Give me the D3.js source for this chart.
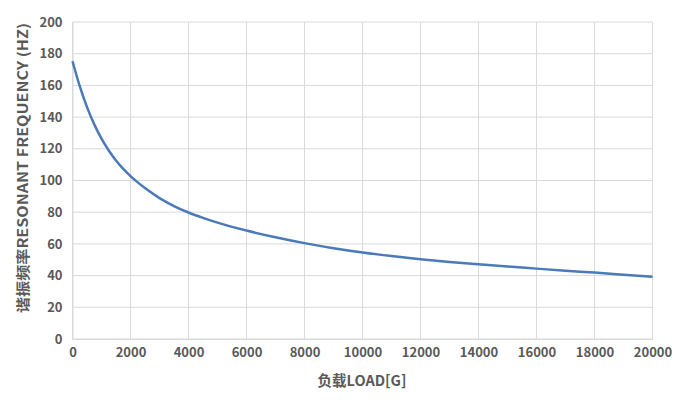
<!DOCTYPE html>
<html><head><meta charset="utf-8">
<script src="https://cdn.jsdelivr.net/npm/d3@7/dist/d3.min.js"></script>
<style>body{margin:0;background:#fff}</style>
</head><body>
<svg id="c" width="692" height="400"></svg>
<script>
const loads = [0,250,500,750,1000,1250,1500,1750,2000,2250,2500,3000,3500,4000,4500,5000,6000,7000,8000,9000,10000,11000,12000,13000,14000,15000,16000,17000,18000,19000,20000];
const freqs = [175.3,159.5,146.3,135.4,126.4,118.9,112.6,107.3,102.8,98.8,95.2,88.9,83.9,79.8,76.4,73.4,68.4,64.2,60.5,57.3,54.6,52.3,50.3,48.6,47.1,45.7,44.4,43.1,41.9,40.6,39.3];
const xTicks = [0,2000,4000,6000,8000,10000,12000,14000,16000,18000,20000];
const yTicks = [0,20,40,60,80,100,120,140,160,180,200];
const xTitle = "负载LOAD[G]";
const yTitle = "谐振频率RESONANT FREQUENCY (HZ)";

const svg = d3.select("#c");
const L=72.5, R=652.5, T=22, B=339;
const x = d3.scaleLinear().domain([0,20000]).range([L,R]);
const y = d3.scaleLinear().domain([0,200]).range([B,T]);
const font = "'Noto Sans CJK SC','Noto Sans',sans-serif";

svg.append("g").selectAll("line").data(yTicks).join("line")
  .attr("x1",L).attr("x2",R).attr("y1",d=>y(d)).attr("y2",d=>y(d))
  .attr("stroke","#d9d9d9").attr("stroke-width",1);
svg.append("g").selectAll("line").data(xTicks).join("line")
  .attr("x1",d=>x(d)).attr("x2",d=>x(d)).attr("y1",T).attr("y2",B)
  .attr("stroke","#d9d9d9").attr("stroke-width",1);

const xa = svg.append("g").attr("transform",`translate(0,${B})`)
  .call(d3.axisBottom(x).tickValues(xTicks).tickSize(0).tickPadding(9).tickFormat(d3.format("d")));
xa.select(".domain").attr("stroke","#d9d9d9");
xa.selectAll("text").attr("font-family",font).attr("font-size",13).attr("font-weight","bold").attr("fill","#595959");

const ya = svg.append("g").attr("transform",`translate(${L},0)`)
  .call(d3.axisLeft(y).tickValues(yTicks).tickSize(0).tickPadding(10));
ya.select(".domain").attr("stroke","#d9d9d9");
ya.selectAll("text").attr("font-family",font).attr("font-size",13).attr("font-weight","bold").attr("fill","#595959");

svg.append("path").datum(loads.map((d,i)=>[d,freqs[i]]))
  .attr("fill","none").attr("stroke","#4a7ab9").attr("stroke-width",2.5)
  .attr("d",d3.line().x(d=>x(d[0])).y(d=>y(d[1])).curve(d3.curveMonotoneX));

svg.append("text").attr("x",362).attr("y",386).attr("text-anchor","middle")
  .attr("font-family",font).attr("font-size",14.5).attr("font-weight","bold").attr("fill","#595959").text(xTitle);
svg.append("text").attr("transform","translate(28,168) rotate(-90)").attr("text-anchor","middle")
  .attr("textLength",290).attr("lengthAdjust","spacingAndGlyphs")
  .attr("font-family",font).attr("font-size",14).attr("font-weight","bold").attr("fill","#595959").text(yTitle);
</script>
</body></html>
